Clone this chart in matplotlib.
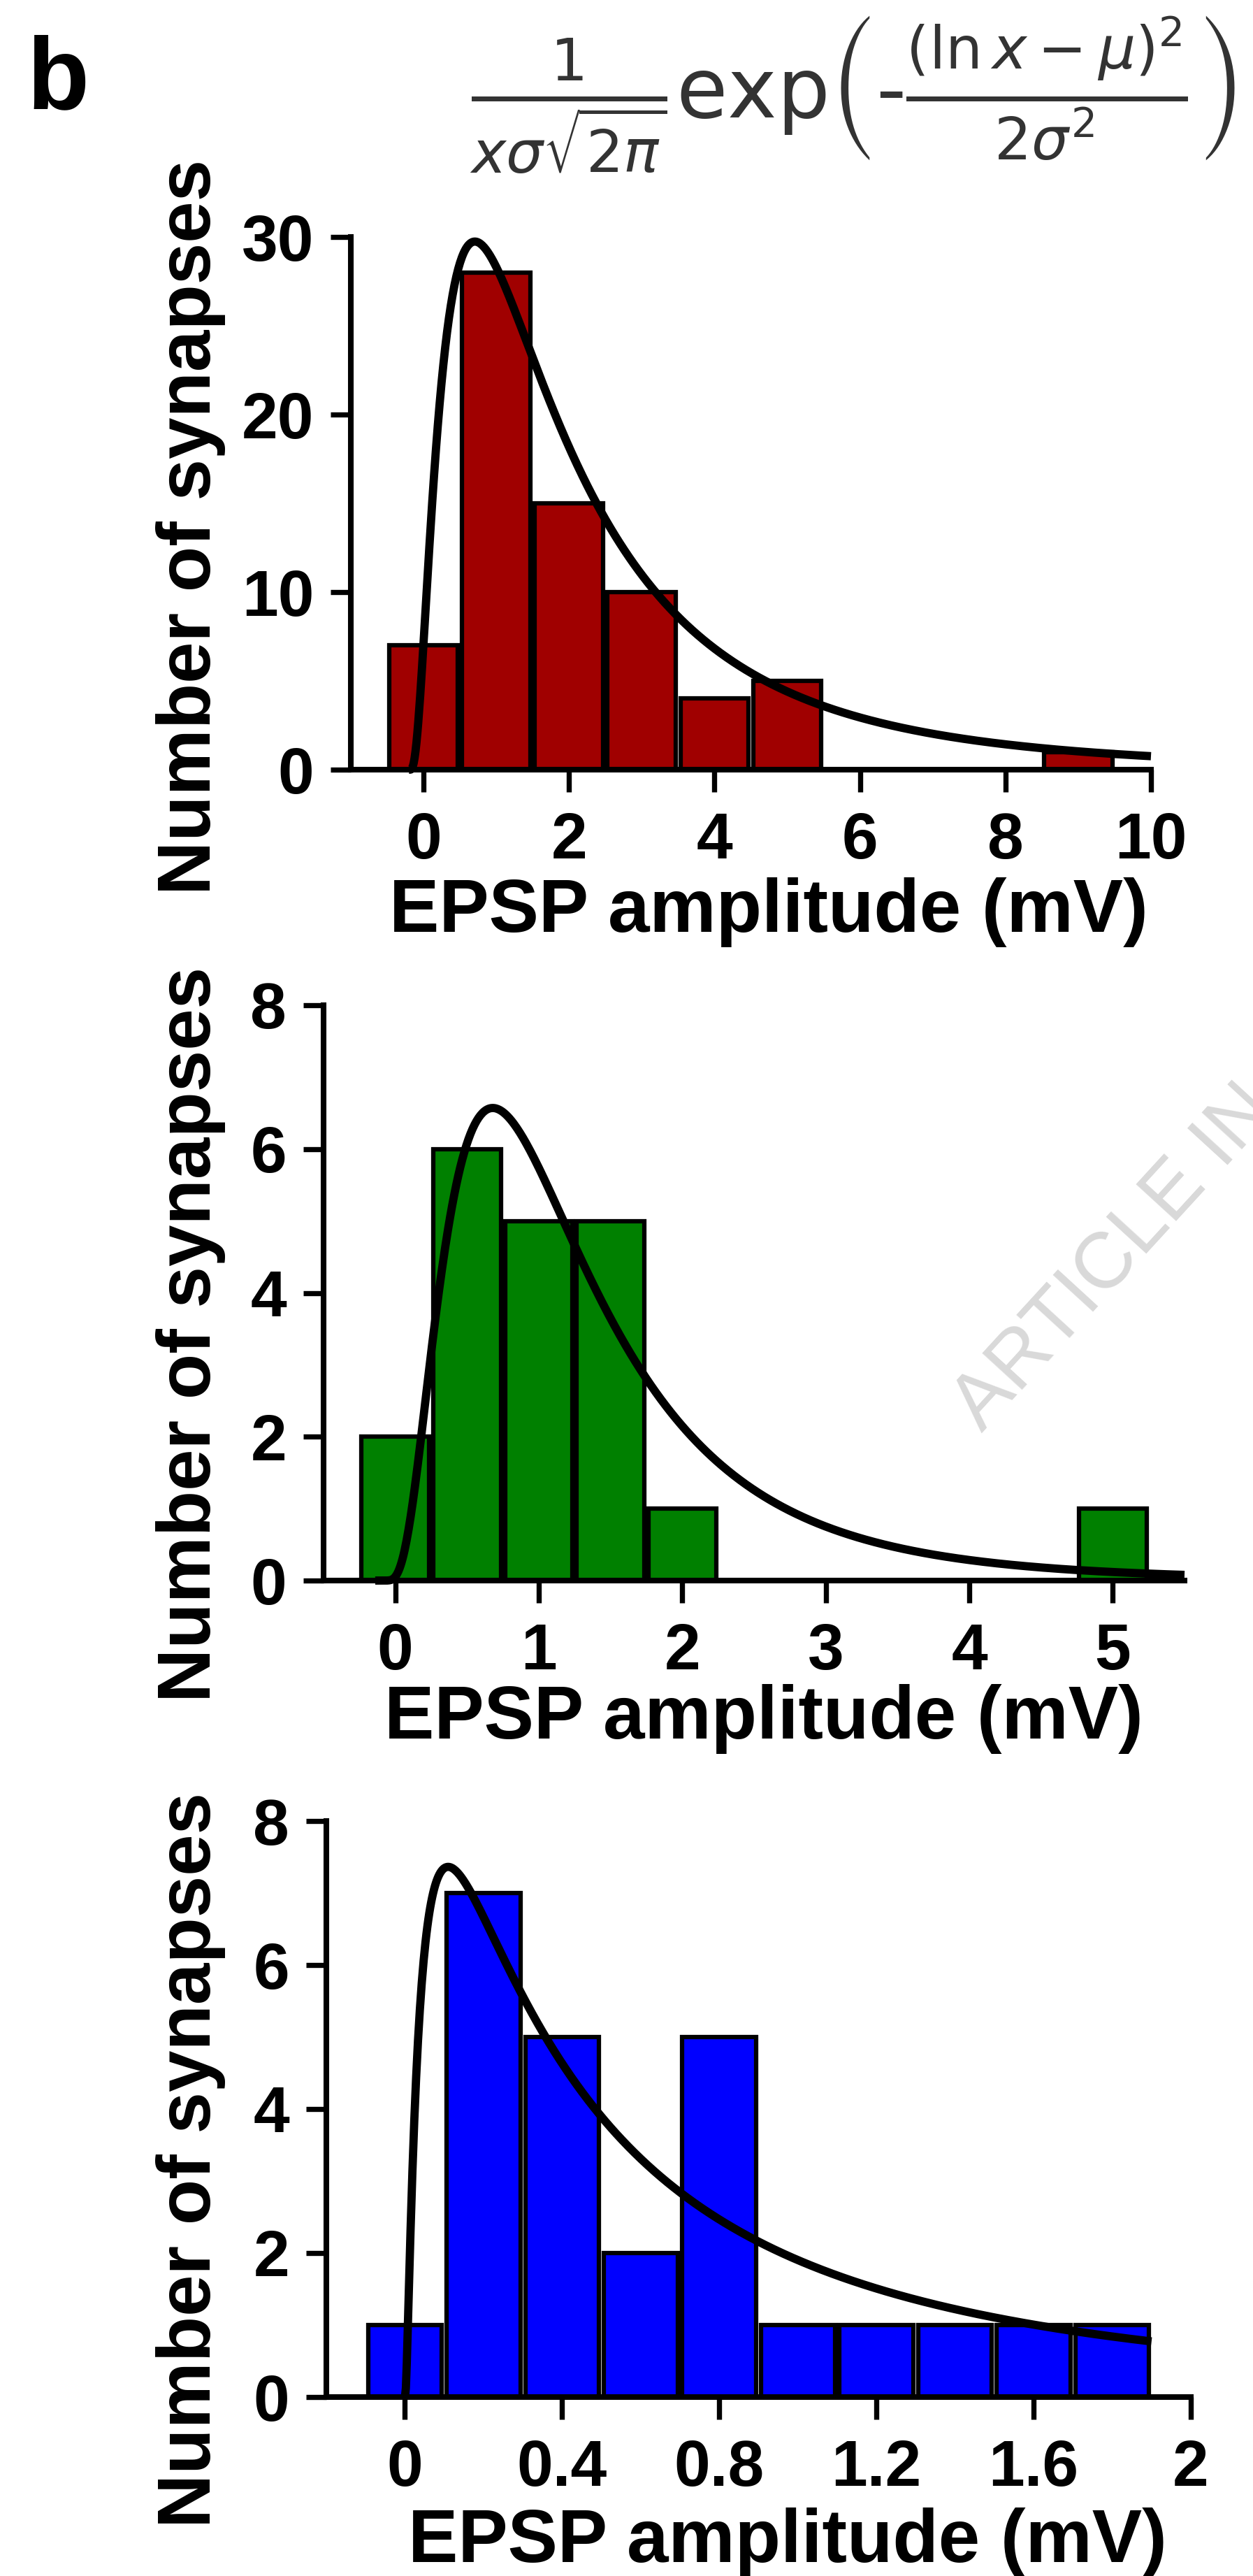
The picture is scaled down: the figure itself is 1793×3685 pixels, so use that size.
import numpy as np
import matplotlib
matplotlib.use("Agg")
import matplotlib.pyplot as plt

# histogram data (bin centres and counts)
centers_a = [0, 1, 2, 3, 4, 5, 6, 7, 8, 9]
counts_a = [7, 28, 15, 10, 4, 5, 0, 0, 0, 1]
centers_b = [0, 0.5, 1.0, 1.5, 2.0, 2.5, 3.0, 3.5, 4.0, 4.5, 5.0]
counts_b = [2, 6, 5, 5, 1, 0, 0, 0, 0, 0, 1]
centers_c = [0, 0.2, 0.4, 0.6, 0.8, 1.0, 1.2, 1.4, 1.6, 1.8]
counts_c = [1, 7, 5, 2, 5, 1, 1, 1, 1, 1]

# log-normal fit parameters: amplitude, mu, sigma, x shift, curve range
fit_a = dict(amp=90.0, mu=0.70, sigma=0.894, shift=-0.2, x0=-0.2, x1=10.0)
fit_b = dict(amp=10.6, mu=0.19, sigma=0.663, shift=-0.1, x0=-0.14, x1=5.5)
fit_c = dict(amp=6.7, mu=-0.407, sigma=1.342, shift=0.0, x0=0.0, x1=1.9)

xticks_a = [0, 2, 4, 6, 8, 10]
yticks_a = [0, 10, 20, 30]
xticks_b = [0, 1, 2, 3, 4, 5]
yticks_b = [0, 2, 4, 6, 8]
xticks_c = [0, 0.4, 0.8, 1.2, 1.6, 2]
xlabels_c = ["0", "0.4", "0.8", "1.2", "1.6", "2"]
yticks_c = [0, 2, 4, 6, 8]

plt.rcParams['font.family'] = ['Liberation Sans', 'DejaVu Sans']
plt.rcParams['mathtext.fontset'] = 'dejavusans'

W, H = 1793, 3685
fig = plt.figure(figsize=(W / 100, H / 100), dpi=100)


def rect(l, r, t, b):
    return [l / W, 1 - b / H, (r - l) / W, (b - t) / H]


def lognorm(x, p):
    z = np.asarray(x) - p['shift']
    out = np.zeros_like(z)
    ok = z > 0
    zz = z[ok]
    out[ok] = p['amp'] / (zz * p['sigma'] * np.sqrt(2 * np.pi)) * \
        np.exp(-(np.log(zz) - p['mu']) ** 2 / (2 * p['sigma'] ** 2))
    return out


def panel(box, centers, counts, binw, color, fit, xlim, ylim, xt, yt, xtl=None):
    ax = fig.add_axes(rect(*box))
    c = np.array(centers, dtype=float)
    h = np.array(counts, dtype=float)
    keep = h > 0
    ax.bar(c[keep], h[keep], width=binw * 0.94, color=color,
           edgecolor='black', linewidth=4.5, zorder=2)
    xs = np.linspace(fit['x0'], fit['x1'], 800)
    ax.plot(xs, lognorm(xs, fit), color='black', lw=8.5, zorder=3,
            solid_capstyle='butt', clip_on=False)
    ax.set_xlim(*xlim)
    ax.set_ylim(*ylim)
    ax.set_xticks(xt)
    if xtl is not None:
        ax.set_xticklabels(xtl)
    ax.set_yticks(yt)
    for s in ['top', 'right']:
        ax.spines[s].set_visible(False)
    for s in ['left', 'bottom']:
        ax.spines[s].set_linewidth(5.8)
        ax.spines[s].set_zorder(4)
    ax.tick_params(axis='both', direction='out', width=5.3, labelsize=67)
    ax.tick_params(axis='x', length=23, pad=20)
    ax.tick_params(axis='y', length=21, pad=17)
    for lab in ax.get_xticklabels() + ax.get_yticklabels():
        lab.set_fontweight('bold')
    return ax


panel((502, 1647, 339, 1101), centers_a, counts_a, 1.0, '#a00000', fit_a,
      (-1, 10), (0, 30), xticks_a, yticks_a)
panel((463, 1695, 1438, 2261), centers_b, counts_b, 0.5, '#008000', fit_b,
      (-0.5, 5.5), (0, 8), xticks_b, yticks_b)
panel((467, 1704, 2605, 3429), centers_c, counts_c, 0.2, '#0000ff', fit_c,
      (-0.2, 2.0), (0, 8), xticks_c, yticks_c, xlabels_c)

# axis titles
for cx, base in [(1100, 1333), (1093, 2487), (1127, 3665)]:
    fig.text(cx / W, 1 - base / H, 'EPSP amplitude (mV)', ha='center',
             va='baseline', fontsize=77, fontweight='bold')
for cy in [754, 1909, 3090]:
    fig.text(323 / W, 1 - cy / H, 'Number of synapses', rotation=90,
             ha='right', va='center', fontsize=77, fontweight='bold')

fig.text(38 / W, 1 - 155 / H, 'b', fontsize=105, fontweight='bold',
         va='baseline', ha='left')

formula = (r'$\frac{1}{x\sigma\sqrt{2\pi}}\mathrm{exp}\left(\text{-}'
           r'\frac{(\ln x-\mu)^2}{2\sigma^2}\right)$')
fig.text(1220 / W, 1 - 135 / H, formula, ha='center', va='center',
         fontsize=86, color='#333333')

# faint watermark, clipped by the right edge as in the source
fig.text(1405 / W, 1 - 2050 / H, 'ARTICLE IN PRESS', rotation=47.5,
         rotation_mode='anchor', ha='left', va='baseline', fontsize=82,
         color='#d9d9d9')

fig.savefig('out.png', dpi=100)
